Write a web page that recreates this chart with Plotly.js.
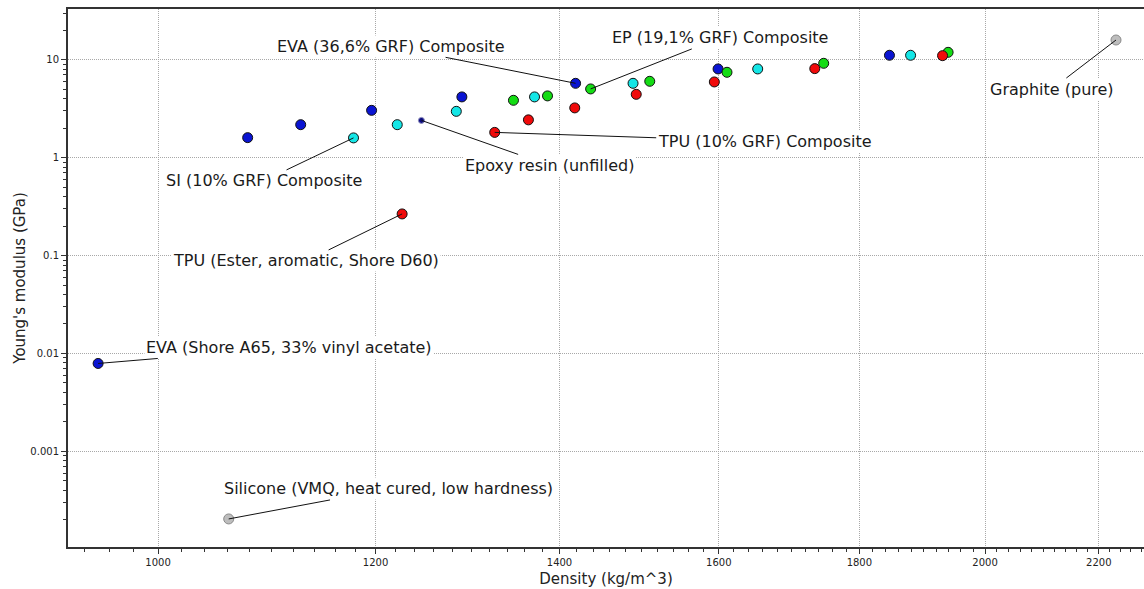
<!DOCTYPE html>
<html>
<head>
<meta charset="utf-8">
<script src="https://cdn.plot.ly/plotly-3.0.1.min.js"></script>
<style>html,body{margin:0;padding:0;background:#fff;}#chart{width:1144px;height:589px;}</style>
</head>
<body>
<div id="chart"></div>
<script>
// Density (kg/m^3) and Young's modulus (GPa), grouped by marker colour
const blueDensity  = [951, 1078, 1127, 1196, 1290, 1419, 1599, 1846];
const blueModulus  = [0.0079, 1.60, 2.17, 3.04, 4.17, 5.74, 8.05, 11.1];
const cyanDensity  = [1178, 1222, 1284, 1371, 1489, 1653, 1879];
const cyanModulus  = [1.59, 2.17, 2.97, 4.17, 5.74, 8.05, 11.1];
const greenDensity = [1347, 1386, 1437, 1510, 1611, 1747, 1939];
const greenModulus = [3.85, 4.27, 5.03, 6.02, 7.44, 9.19, 11.9];
const redDensity   = [1227, 1326, 1364, 1418, 1493, 1594, 1734, 1930];
const redModulus   = [0.266, 1.81, 2.43, 3.22, 4.43, 5.93, 8.11, 11.0];
const grayDensity  = [1061, 2232];
const grayModulus  = [0.000204, 15.9];
const epoxyDensity = [1247];
const epoxyModulus = [2.40];

const xTickVals = [1000, 1200, 1400, 1600, 1800, 2000, 2200];
const xTickText = ["1000", "1200", "1400", "1600", "1800", "2000", "2200"];
const yTickVals = [0.001, 0.01, 0.1, 1, 10];
const yTickText = ["0.001", "0.01", "0.1", "1", "10"];

// labels: text, anchored data point, text offset x, text offset y
const labelText = [
  "EVA (36,6% GRF) Composite",
  "EP (19,1% GRF) Composite",
  "TPU (10% GRF) Composite",
  "Epoxy resin (unfilled)",
  "SI (10% GRF) Composite",
  "TPU (Ester, aromatic, Shore D60)",
  "EVA (Shore A65, 33% vinyl acetate)",
  "Silicone (VMQ, heat cured, low hardness)",
  "Graphite (pure)"
];
const labelX = [blueDensity[5], greenDensity[2], redDensity[1], epoxyDensity[0], cyanDensity[0], redDensity[0], blueDensity[0], grayDensity[0], grayDensity[1]];
const labelY = [blueModulus[5], greenModulus[2], redModulus[1], epoxyModulus[0], cyanModulus[0], redModulus[0], blueModulus[0], grayModulus[0], grayModulus[1]];
const labelAx = [-185, 129, 270, 128, -90, -96, 191, 160, -64];
const labelAy = [-37, -51, 9, 45, 43, 47, -16, -30, 49];

// minor tick positions
const xMinor = [];
for (let v = 940; v <= 2280; v += 20) if (v % 200 !== 0) xMinor.push(v);
const yMinor = [];
for (let d = -4; d <= 1; d++) for (let k = 2; k <= 9; k++) yMinor.push(k * Math.pow(10, d));

function mk(x, y, color, lineColor, size) {
  return {
    x: x, y: y, type: 'scatter', mode: 'markers', hoverinfo: 'x+y',
    marker: {color: color, size: size, line: {color: lineColor, width: 1}}
  };
}

const data = [
  mk(grayDensity, grayModulus, '#bdbdbd', '#8a8a8a', 10),
  mk(blueDensity, blueModulus, '#0a14d2', '#111111', 10),
  mk(cyanDensity, cyanModulus, '#14e6e6', '#111111', 10),
  mk(greenDensity, greenModulus, '#14dc14', '#111111', 10),
  mk(redDensity, redModulus, '#f00a0a', '#111111', 10),
  mk(epoxyDensity, epoxyModulus, '#0c0c80', '#9090c0', 6)
];

const annotations = labelText.map((t, i) => ({
  x: Math.log10(labelX[i]), y: Math.log10(labelY[i]), xref: 'x', yref: 'y',
  text: t, showarrow: true, arrowhead: 0, arrowwidth: 1, arrowcolor: '#111',
  ax: labelAx[i], ay: labelAy[i], bgcolor: '#ffffff', borderpad: 1,
  font: {family: 'DejaVu Sans', size: 16, color: '#1a1a1a'}
}));

const axisCommon = {
  showline: true, linecolor: '#333333', linewidth: 2, mirror: true,
  ticks: 'outside', ticklen: 5, tickcolor: '#333333', tickwidth: 1,
  showgrid: true, gridcolor: '#a8a8a8', griddash: '1px,1px', gridwidth: 1,
  zeroline: false, tickmode: 'array',
  tickfont: {family: 'DejaVu Sans', size: 10, color: '#222'}
};

const layout = {
  width: 1144, height: 589,
  margin: {l: 68, r: 0, t: 9, b: 42},
  paper_bgcolor: '#ffffff', plot_bgcolor: '#ffffff',
  showlegend: false,
  font: {family: 'DejaVu Sans', color: '#222'},
  xaxis: Object.assign({}, axisCommon, {
    type: 'log', range: [Math.log10(927.3), Math.log10(2285)],
    tickvals: xTickVals, ticktext: xTickText, automargin: false,
    minor: {tickmode: 'array', tickvals: xMinor, ticks: 'outside', ticklen: 3, tickcolor: '#333333', showgrid: false},
    title: {text: 'Density (kg/m^3)', font: {family: 'DejaVu Sans', size: 15, color: '#222'}, standoff: 6}
  }),
  yaxis: Object.assign({}, axisCommon, {
    type: 'log', range: [-3.977, 1.518],
    tickvals: yTickVals, ticktext: yTickText, automargin: false,
    minor: {tickmode: 'array', tickvals: yMinor, ticks: 'outside', ticklen: 3, tickcolor: '#333333', showgrid: false},
    title: {text: "Young's modulus (GPa)", font: {family: 'DejaVu Sans', size: 15, color: '#222'}, standoff: 1}
  }),
  annotations: annotations
};

Plotly.newPlot('chart', data, layout, {displayModeBar: false, staticPlot: true});
</script>
</body>
</html>
